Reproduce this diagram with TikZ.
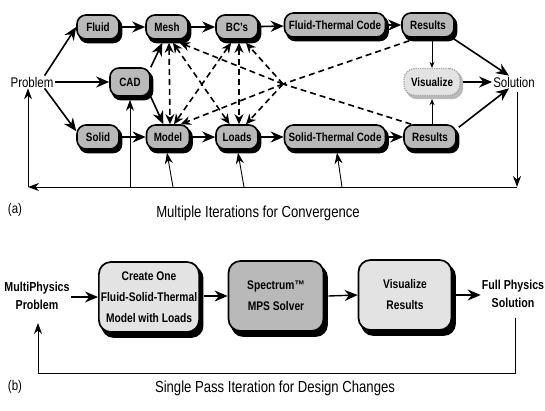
\documentclass[tikz,border=0pt]{standalone}
\usepackage{fontspec}
\setmainfont{Liberation Sans}[FakeStretch=0.82]
\usetikzlibrary{arrows.meta}
\pgfdeclarelayer{shadowlayer}
\pgfsetlayers{shadowlayer,main}
\tikzset{dtip/.tip={Stealth[length=10pt,width=9pt]}}
\begin{document}
\begin{tikzpicture}[x=1pt,y=-1pt,
  pill/.style={draw,line width=1.6pt,fill=gray!55,rounded corners=9pt,
    minimum height=24pt,inner xsep=3pt,inner ysep=2pt,
    font=\fontsize{12}{13}\selectfont\bfseries},
  vis/.style={draw=gray!70,line width=1.3pt,densely dotted,fill=gray!22,rounded corners=11pt,
    minimum height=27pt,minimum width=56pt,inner xsep=3pt,
    font=\fontsize{12}{13}\selectfont\bfseries},
  bigbox/.style={draw,line width=1.7pt,rounded corners=12pt,align=center,
    minimum height=70pt,inner xsep=2pt,
    font=\fontsize{12.5}{21}\selectfont\bfseries},
  shd/.style={fill=black,rounded corners=9pt},
  plain/.style={inner sep=1pt,font=\fontsize{14}{16}\selectfont},
  plainb/.style={inner sep=1pt,align=center,font=\fontsize{13}{18}\selectfont\bfseries},
  capt/.style={inner sep=1pt,font=\fontsize{16}{18}\selectfont},
  arr/.style={line width=1.6pt,-{Stealth[length=13pt,width=11pt]}},
  arrb/.style={line width=1.4pt,-{Stealth[length=13pt,width=11pt]}},
  dsh/.style={line width=1.6pt,dash pattern=on 6pt off 4pt},
  fb/.style={line width=0.9pt},
  fbtip/.style={-{Stealth[length=11pt,width=8pt]}},
  thinarr/.style={line width=0.8pt,-{Stealth[length=6pt,width=5pt]}}
]
\useasboundingbox (0,0) rectangle (545,410);

% ---------- part (a) ----------
\node[pill,minimum width=42pt] (fluid) at (98,27) {Fluid};
\node[pill,minimum width=42pt] (mesh) at (167,27) {Mesh};
\node[pill,minimum width=42pt] (bcs) at (237,27) {BC's};
\node[pill,minimum width=101pt] (ftc) at (335,25) {Fluid-Thermal Code};
\node[pill,minimum width=52pt] (res1) at (428,25) {Results};
\node[pill,minimum width=40pt,minimum height=28pt] (cad) at (130,82) {CAD};
\node[vis] (vis) at (432,82) {Visualize};
\node[pill,minimum width=42pt] (solid) at (98,137) {Solid};
\node[pill,minimum width=43pt] (model) at (168,137) {Model};
\node[pill,minimum width=42pt] (loads) at (237,137) {Loads};
\node[pill,minimum width=101pt] (stc) at (335,137) {Solid-Thermal Code};
\node[pill,minimum width=52pt] (res2) at (430,137) {Results};
\node[plain] (prob) at (32,82) {Problem};
\node[plain] (sol) at (514,82) {Solution};

% ---------- part (b) boxes ----------
\node[plainb] (mp) at (37,296) {MultiPhysics\\Problem};
\node[bigbox,fill=gray!22,minimum width=100pt] (b1) at (149,297) {Create One\\Fluid-Solid-Thermal\\Model with Loads};
\node[bigbox,fill=gray!55,minimum width=95pt] (b2) at (276,296) {Spectrum™\\MPS Solver};
\node[bigbox,fill=gray!22,minimum width=93pt] (b3) at (405,295) {Visualize\\Results};
\node[plainb] (fps) at (513,294) {Full Physics\\Solution};

% shadows
\begin{pgfonlayer}{shadowlayer}
\foreach \n in {fluid,mesh,bcs,ftc,res1,cad,solid,model,loads,stc,res2}
  \fill[shd] ([xshift=2.5pt,yshift=-3.5pt]\n.south west) rectangle ([xshift=2.5pt,yshift=-3.5pt]\n.north east);
\fill[shd,fill=gray!55,rounded corners=11pt] ([xshift=2.5pt,yshift=-3pt]vis.south west) rectangle ([xshift=2.5pt,yshift=-3pt]vis.north east);
\foreach \n in {b1,b2,b3}
  \fill[shd,rounded corners=12pt] ([xshift=3.5pt,yshift=-5pt]\n.south west) rectangle ([xshift=3.5pt,yshift=-5pt]\n.north east);
\end{pgfonlayer}

\coordinate (J) at (283,84);
\coordinate (fr) at (517,187);
\coordinate (fl) at (28,187);

% solid flow arrows
\draw[arr] ([xshift=-10pt]prob.north east) -- (fluid.west);
\draw[arr] (prob.east) -- (cad.west);
\draw[arr] ([xshift=-10pt]prob.south east) -- (solid.165);
\draw[arr] (fluid) -- (mesh);
\draw[arr] (mesh) -- (bcs);
\draw[arr] (bcs) -- (ftc);
\draw[arr] (ftc) -- (res1);
\draw[arr] (solid) -- (model);
\draw[arr] (model) -- (loads);
\draw[arr] (loads) -- (stc);
\draw[arr] (stc) -- (res2);
\draw[arr] (cad.north east) -- ([yshift=-3pt]mesh.250);
\draw[arr] (cad.south east) -- (model.110);
\draw[arr] ([xshift=2pt]res1.330) -- ([xshift=-5pt]sol.north);
\draw[arr] ([xshift=2pt]res2.20) -- ([xshift=-5pt]sol.south);
\draw[arr] ([xshift=2pt]vis.east) -- (sol.west);
\draw[thinarr] ([yshift=-3pt]res1.south -| vis) -- (vis.north);
\draw[thinarr] (res2.north -| vis) -- ([yshift=-3pt]vis.south);

% dashed interactions
\draw[dsh,{dtip}-{dtip}] ([xshift=2pt,yshift=-3pt]mesh.south) -- ([xshift=2pt]model.north);
\draw[dsh,{dtip}-{dtip}] ([xshift=2pt,yshift=-3pt]bcs.south) -- ([xshift=2pt]loads.north);
\draw[dsh,{dtip}-{dtip}] ([yshift=-3pt]mesh.295) -- (loads.120);
\draw[dsh,{dtip}-{dtip}] ([yshift=-3pt]bcs.245) -- (model.65);
\draw[dsh] ([xshift=8pt,yshift=-3pt]res1.south west) -- (J);
\draw[dsh] ([xshift=8pt]res2.north west) -- (J);
\draw[dsh,-{dtip}] (J) -- ([yshift=-3pt]mesh.315);
\draw[dsh,-{dtip}] (J) -- ([yshift=-3pt]bcs.305);
\draw[dsh,-{dtip}] (J) -- (model.45);
\draw[dsh,-{dtip}] (J) -- (loads.55);

% feedback loop
\draw[fb,fbtip] ([yshift=-4pt]sol.south -| fr) -- (fr);
\draw[fb,fbtip] (fr) -- (fl);
\draw[fb,fbtip] (fl) -- (prob.south -| fl);
\draw[fb,fbtip] (cad.south |- fl) -- ([yshift=-3pt]cad.south);
\draw[fb,fbtip] ([xshift=5pt]model.south |- fl) -- ([xshift=-1pt,yshift=-3pt]model.south);
\draw[fb,fbtip] ([xshift=7pt]loads.south |- fl) -- ([xshift=1pt,yshift=-3pt]loads.south);
\draw[fb,fbtip] ([xshift=7pt]stc.south |- fl) -- ([xshift=2pt,yshift=-3pt]stc.south);

\node[plain] (la) at (15,210) {(a)};
\node[capt] (ca) at (258,213) {Multiple Iterations for Convergence};

% ---------- part (b) connectors ----------
\coordinate (gr) at (515,373);
\coordinate (gl) at (38,373);

\draw[arrb] (mp.east |- b1.west) -- (b1.west);
\draw[arrb] ([xshift=4pt]b1.east |- b2.west) -- (b2.west);
\draw[arrb] ([xshift=4pt]b2.east) -- (b3.west);
\draw[arrb] ([xshift=4pt]b3.east) -- (fps.west |- b3.east);
\draw[fb] ([yshift=-9pt]fps.south -| gr) -- (gr) -- (gl);
\draw[fb,fbtip] (gl) -- ([yshift=-12pt]mp.south -| gl);

\node[plain] (lb) at (15,387) {(b)};
\node[capt] (cb) at (275,388) {Single Pass Iteration for Design Changes};
\end{tikzpicture}
\end{document}
